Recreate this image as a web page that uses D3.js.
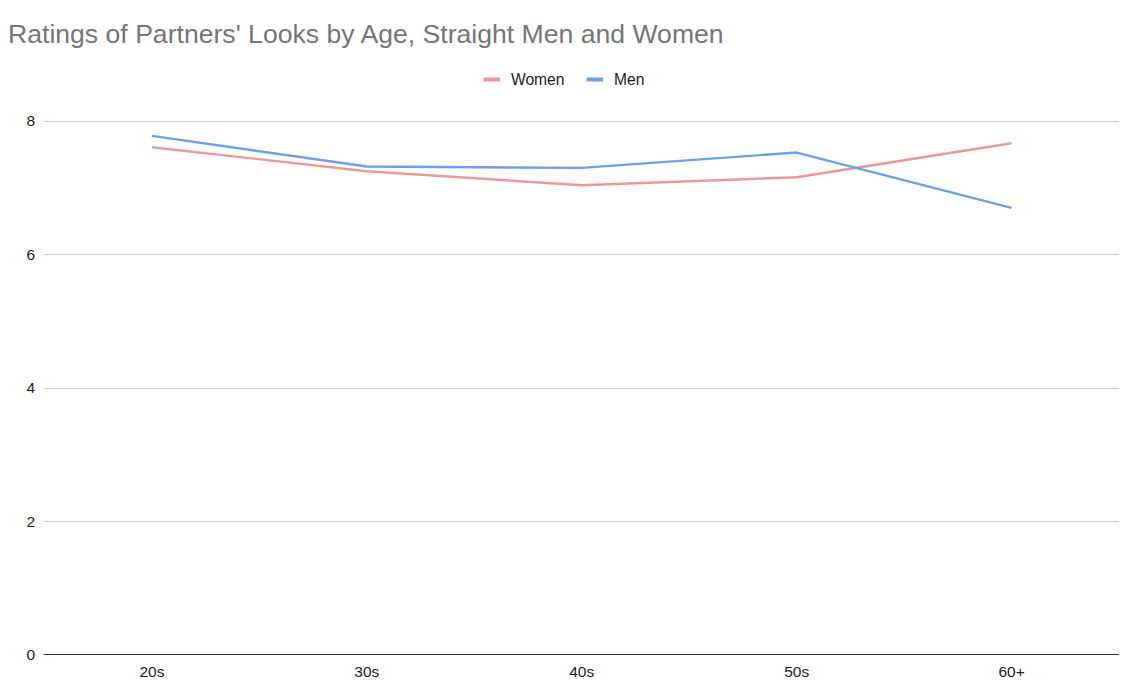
<!DOCTYPE html>
<html>
<head>
<meta charset="utf-8">
<script src="https://cdn.jsdelivr.net/npm/d3@7"></script>
<style>
  body { margin: 0; background: #fff; }
  svg text { font-family: "Liberation Sans", Arial, sans-serif; }
</style>
</head>
<body>
<div id="chart"></div>
<script>
// Ratings of partners' looks by age

const ages = ['20s', '30s', '40s', '50s', '60+'];
const women = [7.60, 7.24, 7.03, 7.15, 7.66];
const men = [7.77, 7.31, 7.29, 7.52, 6.69];
const yTicks = [0, 2, 4, 6, 8];

const seriesNames = ['Women', 'Men'];
const seriesColors = ['#ea9999', '#6d9eeb'];

const width = 1138, height = 698;
const margin = { top: 120.5, right: 19, bottom: 43.5, left: 44.5 };

const svg = d3.select('#chart')
    .append('svg')
    .attr('width', width)
    .attr('height', height);

const x = d3.scalePoint()
    .domain(ages)
    .range([margin.left, width - margin.right])
    .padding(0.5);

const y = d3.scaleLinear()
    .domain([0, 8])
    .range([height - margin.bottom, margin.top]);

// title
svg.append('text')
    .attr('x', 8)
    .attr('y', 43)
    .attr('fill', '#757575')
    .attr('font-size', '26.6px')
    .text("Ratings of Partners' Looks by Age, Straight Men and Women");

// gridlines
svg.append('g')
    .selectAll('line')
    .data(yTicks.filter(d => d != 0))
    .join('line')
    .attr('x1', margin.left)
    .attr('x2', width - margin.right)
    .attr('y1', d => Math.round(y(d)) + 0.5)
    .attr('y2', d => Math.round(y(d)) + 0.5)
    .attr('stroke', '#cccccc')
    .attr('stroke-width', 1);

// y labels
svg.append('g')
    .selectAll('text')
    .data(yTicks)
    .join('text')
    .attr('x', 35)
    .attr('y', d => y(d) + 5.5)
    .attr('text-anchor', 'end')
    .attr('font-size', '15.5px')
    .attr('fill', '#222')
    .text(d => d);

// x axis baseline
svg.append('line')
    .attr('x1', margin.left - 1)
    .attr('x2', width - margin.right)
    .attr('y1', y(0))
    .attr('y2', y(0))
    .attr('stroke', '#333')
    .attr('stroke-width', 1);

// x labels
svg.append('g')
    .selectAll('text')
    .data(ages)
    .join('text')
    .attr('x', d => x(d))
    .attr('y', 676.5)
    .attr('text-anchor', 'middle')
    .attr('font-size', '15.5px')
    .attr('fill', '#222')
    .text(d => d);

// lines
const line = d3.line()
    .x((d, i) => x(ages[i]))
    .y(d => y(d));

svg.append('g')
    .selectAll('path')
    .data([women, men])
    .join('path')
    .attr('d', line)
    .attr('fill', 'none')
    .attr('stroke', (d, i) => seriesColors[i])
    .attr('stroke-width', 2.4)
    .attr('stroke-linejoin', 'round');

// legend
const legendX = [483.5, 586.5];
const legendG = svg.append('g');

legendG.selectAll('rect')
    .data(seriesNames)
    .join('rect')
    .attr('x', (d, i) => legendX[i])
    .attr('y', 77.5)
    .attr('width', 16.5)
    .attr('height', 4)
    .attr('fill', (d, i) => seriesColors[i]);

legendG.selectAll('text')
    .data(seriesNames)
    .join('text')
    .attr('x', (d, i) => legendX[i] + 27.5)
    .attr('y', 84.5)
    .attr('font-size', '15.6px')
    .attr('fill', '#222')
    .text(d => d);
</script>
</body>
</html>
